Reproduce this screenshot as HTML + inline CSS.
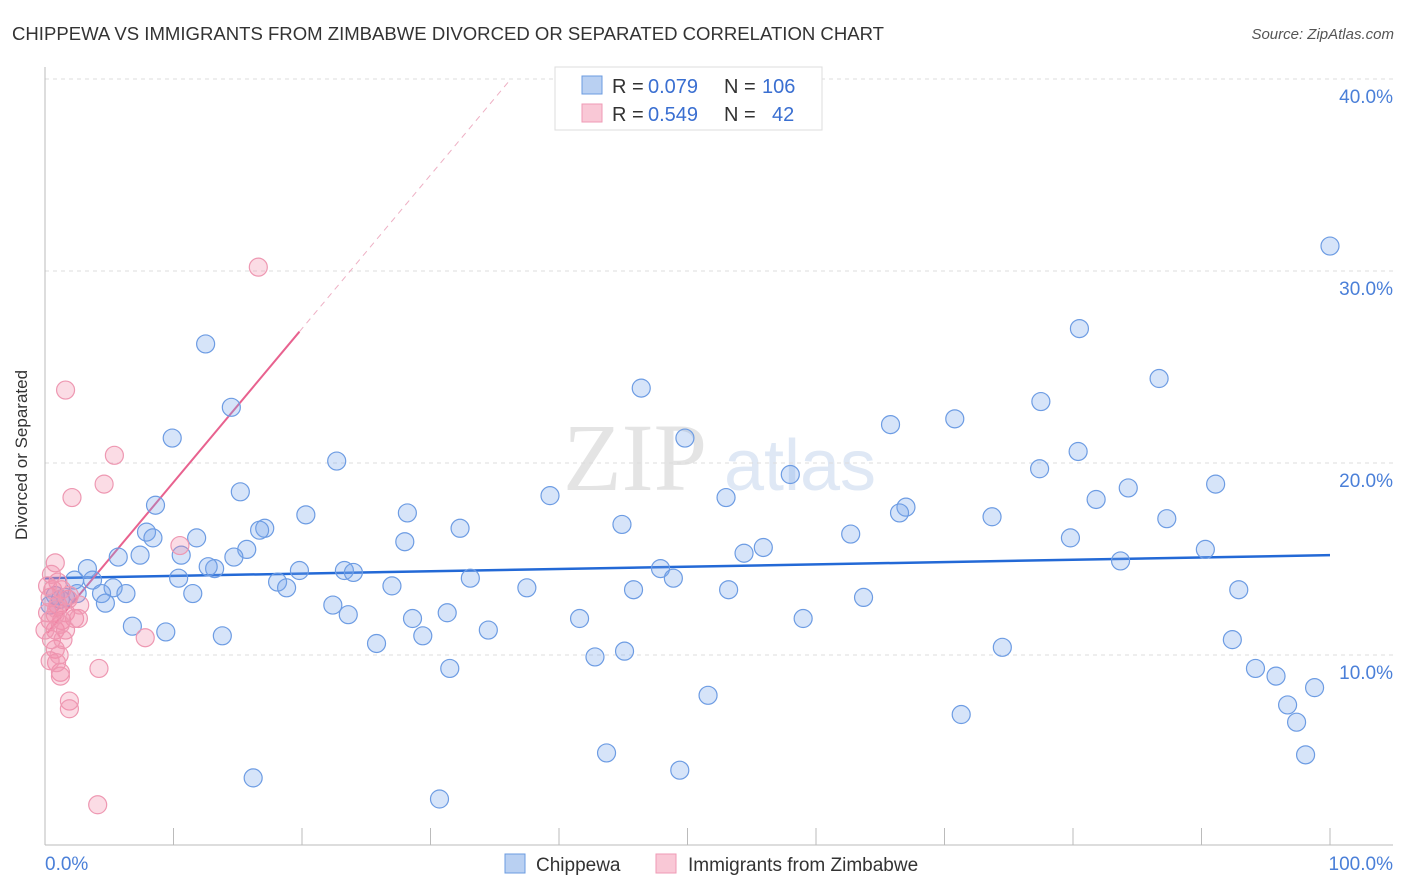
<!DOCTYPE html>
<html><head><meta charset="utf-8"><style>
body{margin:0;background:#fff;font-family:"Liberation Sans",sans-serif;}
svg{display:block}
</style></head><body>
<svg id="chart" width="1406" height="892">
<text x="12" y="40" font-size="18" fill="#333" textLength="872" lengthAdjust="spacingAndGlyphs">CHIPPEWA VS IMMIGRANTS FROM ZIMBABWE DIVORCED OR SEPARATED CORRELATION CHART</text>
<text x="1394" y="39" font-size="15" fill="#555" font-style="italic" text-anchor="end">Source: ZipAtlas.com</text>
<text x="27" y="455" font-size="17" fill="#333" text-anchor="middle" transform="rotate(-90 27 455)">Divorced or Separated</text>
<g><text x="635" y="490" font-size="96" fill="#e4e4e4" font-family="Liberation Serif,serif" text-anchor="middle">ZIP</text><text x="800" y="490" font-size="72" fill="#dfe8f5" text-anchor="middle">atlas</text></g>
<g id="grid"></g><g id="axes"></g><g id="trend"></g><g id="pts"></g>
<g>
<rect x="555" y="67" width="267" height="63" fill="#fff" stroke="#ddd"/>
<rect x="582" y="76" width="20" height="18" fill="#b9d0f2" stroke="#6b9be0"/>
<rect x="582" y="104" width="20" height="18" fill="#f9c8d6" stroke="#ef9ab5"/>
<text x="612" y="93" font-size="20" fill="#333">R =</text>
<text x="648" y="93" font-size="20" fill="#3a6fd1">0.079</text>
<text x="724" y="93" font-size="20" fill="#333">N =</text>
<text x="762" y="93" font-size="20" fill="#3a6fd1">106</text>
<text x="612" y="121" font-size="20" fill="#333">R =</text>
<text x="648" y="121" font-size="20" fill="#3a6fd1">0.549</text>
<text x="724" y="121" font-size="20" fill="#333">N =</text>
<text x="772" y="121" font-size="20" fill="#3a6fd1">42</text>
</g>
<g>
<rect x="505" y="854" width="20" height="19" fill="#b9d0f2" stroke="#6b9be0"/>
<text x="536" y="871" font-size="19" fill="#333">Chippewa</text>
<rect x="656" y="854" width="20" height="19" fill="#f9c8d6" stroke="#ef9ab5"/>
<text x="688" y="871" font-size="19" fill="#333">Immigrants from Zimbabwe</text>
</g>
</svg>
<script>
const blueX=[100,80.5,86.7,12.5,46.4,77.5,70.8,65.8,14.5,9.9,49.8,22.7,80.4,77.4,58.0,39.3,53.0,15.2,84.3,81.8,91.1,8.6,67.0,66.5,28.2,20.3,73.7,87.3,44.9,32.3,17.1,16.7,7.9,8.4,11.8,62.7,79.8,28.0,15.7,55.9,54.4,10.6,7.4,5.7,90.3,83.7,14.7,13.2,12.7,3.3,19.8,23.3,24.0,47.9,48.9,33.1,10.4,2.3,3.7,18.1,18.8,27.0,37.5,45.8,53.2,92.9,5.3,6.3,4.4,11.5,2.5,63.7,4.7,22.4,23.6,31.3,28.6,41.6,59.0,6.8,9.4,34.5,13.8,29.4,92.4,25.8,74.5,42.8,45.1,31.5,94.2,95.8,98.8,51.6,96.7,97.4,71.3,43.7,98.1,16.2,49.4,30.7,0.8,1.2,1.6,0.4];
const blueY=[31.3,27.0,24.4,26.2,23.9,23.2,22.3,22.0,22.9,21.3,21.3,20.1,20.6,19.7,19.4,18.3,18.2,18.5,18.7,18.1,18.9,17.8,17.7,17.4,17.4,17.3,17.2,17.1,16.8,16.6,16.6,16.5,16.4,16.1,16.1,16.3,16.1,15.9,15.5,15.6,15.3,15.2,15.2,15.1,15.5,14.9,15.1,14.5,14.6,14.5,14.4,14.4,14.3,14.5,14.0,14.0,14.0,13.9,13.9,13.8,13.5,13.6,13.5,13.4,13.4,13.4,13.5,13.2,13.2,13.2,13.2,13.0,12.7,12.6,12.1,12.2,11.9,11.9,11.9,11.5,11.2,11.3,11.0,11.0,10.8,10.6,10.4,9.9,10.2,9.3,9.3,8.9,8.3,7.9,7.4,6.5,6.9,4.9,4.8,3.6,4.0,2.5,13.1,12.9,13.0,12.6];
const pinkX=[16.6,1.6,5.4,4.6,2.1,10.5,0.8,7.8,4.2,1.9,1.9,4.1,1.2,1.2,0.8,0.9,0.5,0.8,1.3,1.6,1.0,0.4,0.6,0.2,2.3,2.6,1.6,1.2,0.8,0.4,1.8,1.3,1.0,1.9,0.5,0.2,0.9,1.4,0,2.7,0.4,1.1];
const pinkY=[30.2,23.8,20.4,18.9,18.2,15.7,14.8,10.9,9.3,7.6,7.2,2.2,9.1,8.9,10.3,9.6,10.8,11.3,11.8,12.2,12.6,13.0,13.4,12.2,11.9,11.9,11.3,11.6,12.1,11.8,12.9,13.4,13.8,13.1,14.2,13.6,12.4,10.8,11.3,12.6,9.7,10.0];
const yTicks=[10,20,30,40];
const xTickLabels=["0.0%","100.0%"];
const blueTrend=[14.0,15.2];
const pinkTrend=[11.0,0.8];
const X=v=>45+v*12.85, Y=v=>847-v*19.2;
const NS="http://www.w3.org/2000/svg";
function mk(p,t,a){const e=document.createElementNS(NS,t);for(const k in a)e.setAttribute(k,a[k]);p.appendChild(e);return e;}
const grid=document.getElementById('grid'),axes=document.getElementById('axes');
yTicks.forEach(t=>{
 const l=mk(grid,'line',{x1:45,x2:1393,y1:Y(t),y2:Y(t),stroke:'#ddd','stroke-dasharray':'4,4'});
 
 
 const tx=mk(axes,'text',{x:1393,y:Y(t)+24,'font-size':19,fill:'#4a7fd8','text-anchor':'end'});tx.textContent=t.toFixed(1)+'%';
 
 
});
mk(axes,'line',{x1:45,x2:45,y1:67,y2:845,stroke:'#bbb'});
mk(axes,'line',{x1:45,x2:1393,y1:845,y2:845,stroke:'#bbb'});
for(let i=0;i<=10;i++){const t=mk(axes,'line',{x1:X(i*10),x2:X(i*10),y1:828,y2:845,stroke:'#bbb'});
 
 }
[[0,'start',45],[1,'end',1393]].forEach(([i,a,x])=>{const t=mk(axes,'text',{x:x,y:870,'font-size':19,fill:'#4a7fd8','text-anchor':a});t.textContent=xTickLabels[i];
 
 });
const pts=document.getElementById('pts');
blueX.forEach((x,i)=>{const c=mk(pts,'circle',{cx:X(x),cy:Y(blueY[i]),r:9,fill:'rgba(120,165,235,0.3)',stroke:'#6d9ce3','stroke-width':1.2});
 
 });
pinkX.forEach((x,i)=>{const c=mk(pts,'circle',{cx:X(x),cy:Y(pinkY[i]),r:9,fill:'rgba(242,140,170,0.3)',stroke:'#ee98b2','stroke-width':1.2});
 
 });
const tr=document.getElementById('trend');
const bt=mk(tr,'line',{x1:X(0),x2:X(100),y1:Y(blueTrend[0]),y2:Y(blueTrend[1]),stroke:'#2369d6','stroke-width':2.5});


const pf=x=>pinkTrend[0]+pinkTrend[1]*x;
const pt=mk(tr,'line',{x1:X(0.2),x2:X(19.8),y1:Y(pf(0.2)),y2:Y(pf(19.8)),stroke:'#e8628f','stroke-width':2});


const pd=mk(tr,'line',{x1:X(19.8),x2:X(36.2),y1:Y(pf(19.8)),y2:Y(pf(36.2)),stroke:'#eeb0c4','stroke-width':1,'stroke-dasharray':'6,5'});


</script>
</body></html>
